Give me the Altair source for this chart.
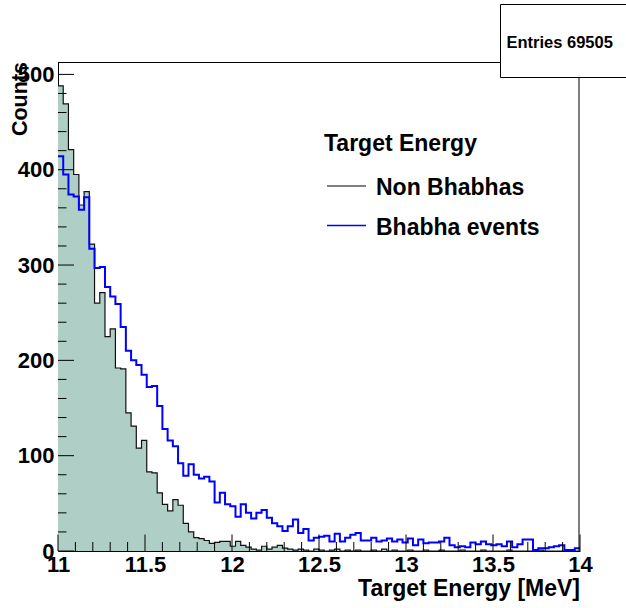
import altair as alt
import pandas as pd
import numpy as np

# ---- data ----
bin_lo = 11.0
bin_width = 0.03
non_bhabha = [488, 469, 421, 395, 363, 377, 322, 260, 271, 225,
              233, 192, 191, 145, 131, 108, 116, 83, 82, 61,
              49, 42, 54, 48, 29, 20, 14, 13, 11, 8,
              9, 10, 10, 5, 10, 6, 4, 2, 1, 5,
              2, 4, 6, 3, 2, 1, 2, 1, 0, 2,
              1, 0, 1, 2, 0, 1, 0, 1, 0, 0,
              1, 0, 2, 0, 1, 0, 0, 1, 0, 0,
              1, 0, 0, 1, 0, 0, 0, 1, 0, 0,
              0, 1, 0, 0, 0, 0, 1, 0, 0, 0,
              0, 0, 1, 0, 0, 0, 0, 0, 0, 0]
bhabha = [414, 395, 374, 372, 358, 371, 317, 297, 298, 277,
          267, 259, 235, 210, 200, 195, 185, 172, 173, 152,
          128, 116, 110, 92, 79, 91, 80, 76, 78, 73,
          51, 61, 49, 47, 36, 49, 40, 34, 40, 43,
          35, 29, 26, 21, 26, 33, 19, 23, 11, 14,
          15, 16, 10, 18, 10, 14, 17, 19, 11, 11,
          14, 10, 11, 13, 10, 12, 9, 13, 6, 12,
          8, 9, 9, 10, 14, 6, 4, 5, 4, 9,
          7, 10, 7, 6, 7, 5, 10, 4, 7, 12,
          12, 1, 3, 3, 4, 5, 6, 1, 1, 3]
x_ticks_major = [11, 11.5, 12, 12.5, 13, 13.5, 14]
y_ticks_major = [0, 100, 200, 300, 400, 500]

n = len(bhabha)
edges = [round(bin_lo + i * bin_width, 4) for i in range(n + 1)]


def step_df(vals):
    return pd.DataFrame({"x": edges, "y": list(vals) + [vals[-1]]})


df_nb = step_df(non_bhabha)
df_bb = step_df(bhabha)

x_minor = [round(11 + 0.1 * i, 2) for i in range(31) if i % 5 != 0]
y_minor = [v for v in range(0, 513, 20) if v % 100 != 0]

W, H = 522, 489
FONT = "Liberation Sans"
FILL = "#afcfc6"

xs = alt.Scale(domain=[11, 14], nice=False, zero=False)
ys = alt.Scale(domain=[0, 513], nice=False)

xaxis = alt.Axis(values=x_ticks_major, format="~g", ticks=False, tickSize=0,
                 labelPadding=3, labelFontSize=22, labelFont=FONT,
                 labelFontWeight="bold", labelColor="black", title=None,
                 domainColor="black", grid=False, labelFlush=False)
yaxis = alt.Axis(values=y_ticks_major, ticks=False, tickSize=0,
                 labelPadding=4, labelFontSize=22, labelFont=FONT,
                 labelFontWeight="bold", labelColor="black", title=None,
                 domainColor="black", grid=False, labelFlush=False)

fill = alt.Chart(df_nb).mark_area(interpolate="step-after", color=FILL).encode(
    x=alt.X("x:Q", scale=xs, axis=xaxis),
    y=alt.Y("y:Q", scale=ys, axis=yaxis),
)
line_nb = alt.Chart(df_nb).mark_line(interpolate="step-after", color="#111111",
                                     strokeWidth=1.2).encode(
    x=alt.X("x:Q", scale=xs), y=alt.Y("y:Q", scale=ys))
line_bb = alt.Chart(df_bb).mark_line(interpolate="step-after", color="#0000ff",
                                     strokeWidth=2).encode(
    x=alt.X("x:Q", scale=xs), y=alt.Y("y:Q", scale=ys))

# inner ticks
ytm = alt.Chart(pd.DataFrame({"v": y_ticks_major})).mark_rule(color="black", strokeWidth=1).encode(
    y=alt.Y("v:Q", scale=ys), x=alt.value(0), x2=alt.value(16))
ytn = alt.Chart(pd.DataFrame({"v": y_minor})).mark_rule(color="black", strokeWidth=1).encode(
    y=alt.Y("v:Q", scale=ys), x=alt.value(0), x2=alt.value(8.5))
xtm = alt.Chart(pd.DataFrame({"v": x_ticks_major})).mark_rule(color="black", strokeWidth=1).encode(
    x=alt.X("v:Q", scale=xs), y=alt.value(H), y2=alt.value(H - 16.5))
xtn = alt.Chart(pd.DataFrame({"v": x_minor})).mark_rule(color="black", strokeWidth=1).encode(
    x=alt.X("v:Q", scale=xs), y=alt.value(H), y2=alt.value(H - 9))

one = pd.DataFrame({"a": [0]})
top_line = alt.Chart(one).mark_rule(color="black", strokeWidth=1).encode(
    x=alt.value(0), x2=alt.value(443), y=alt.value(0.5))
right_line = alt.Chart(one).mark_rule(color="black", strokeWidth=1).encode(
    x=alt.value(521), y=alt.value(16), y2=alt.value(H))

stats_box = alt.Chart(one).mark_rect(fill="white", stroke="black", strokeWidth=1).encode(
    x=alt.value(442.5), x2=alt.value(575), y=alt.value(-57.5), y2=alt.value(15.5))
stats_text = alt.Chart(one).mark_text(text="Entries 69505", font=FONT, fontWeight="bold",
                                      fontSize=16.5, align="left", baseline="alphabetic",
                                      color="black").encode(
    x=alt.value(448.5), y=alt.value(-14.5))

LEG = 23
leg_title = alt.Chart(one).mark_text(text="Target Energy", font=FONT, fontWeight="bold",
                                     fontSize=LEG, align="left", baseline="alphabetic",
                                     color="black").encode(x=alt.value(266), y=alt.value(89))
leg_line1 = alt.Chart(one).mark_rule(color="black", strokeWidth=1).encode(
    x=alt.value(269), x2=alt.value(308), y=alt.value(124))
leg_line2 = alt.Chart(one).mark_rule(color="#0000ff", strokeWidth=1.5).encode(
    x=alt.value(269), x2=alt.value(308), y=alt.value(163.5))
leg_t1 = alt.Chart(one).mark_text(text="Non Bhabhas", font=FONT, fontWeight="bold",
                                  fontSize=LEG, align="left", baseline="alphabetic",
                                  color="black").encode(x=alt.value(318), y=alt.value(132.5))
leg_t2 = alt.Chart(one).mark_text(text="Bhabha events", font=FONT, fontWeight="bold",
                                  fontSize=LEG, align="left", baseline="alphabetic",
                                  color="black").encode(x=alt.value(318), y=alt.value(172.5))

x_title = alt.Chart(one).mark_text(text="Target Energy [MeV]", font=FONT, fontWeight="bold",
                                   fontSize=23, align="right", baseline="alphabetic",
                                   color="black").encode(x=alt.value(W), y=alt.value(H + 45))
y_title = alt.Chart(one).mark_text(text="Counts", font=FONT, fontWeight="bold",
                                   fontSize=21.5, align="right", baseline="alphabetic",
                                   angle=270, color="black").encode(x=alt.value(-31), y=alt.value(0))

chart = alt.layer(
    fill, line_nb, line_bb, ytm, ytn, xtm, xtn, top_line, right_line,
    leg_title, leg_line1, leg_line2, leg_t1, leg_t2,
    x_title, y_title, stats_box, stats_text
).properties(
    width=W, height=H,
    padding={"left": 58, "top": 62, "right": 46, "bottom": 57},
    autosize=alt.AutoSizeParams(type="none"),
    background="white",
).configure_view(stroke=None)

chart.save("out.html", embed_options={"renderer": "svg", "actions": False})
